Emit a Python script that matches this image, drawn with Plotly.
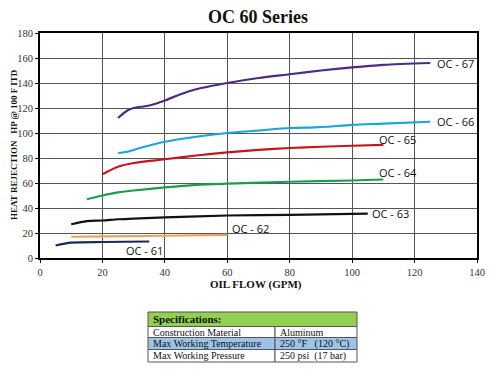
import plotly.graph_objects as go

# ---- data ----
oc61_x = [5, 10, 20, 35]
oc61_y = [10, 12.3, 12.8, 13.2]
oc62_x = [10, 20, 40, 60]
oc62_y = [17, 17.3, 17.8, 18.5]
oc63_x = [10, 15, 20, 25, 30, 40, 60, 80, 105]
oc63_y = [27, 29.5, 30, 31, 31.5, 32.5, 34, 34.5, 35.5]
oc64_x = [15, 20, 25, 30, 40, 50, 60, 80, 100, 110]
oc64_y = [47, 50, 52.5, 54, 56.5, 58.5, 59.5, 61, 62, 62.8]
oc65_x = [20, 25, 30, 40, 50, 60, 70, 80, 90, 100, 110]
oc65_y = [67, 73, 76, 79, 82, 84.5, 86.5, 88, 89, 89.8, 90.5]
oc66_x = [25, 28, 32, 40, 50, 60, 70, 80, 88, 92, 100, 110, 125]
oc66_y = [84, 85, 88, 93, 97, 100, 102, 104, 104.5, 105, 106.5, 107.5, 109]
oc67_x = [25, 28, 30, 35, 40, 45, 50, 60, 70, 80, 90, 100, 110, 125]
oc67_y = [112, 118, 120, 122, 126, 131, 135, 140, 144, 147, 150, 152.5, 154.5, 156]

series_names = ["OC - 61", "OC - 62", "OC - 63", "OC - 64", "OC - 65", "OC - 66", "OC - 67"]
series_x = [oc61_x, oc62_x, oc63_x, oc64_x, oc65_x, oc66_x, oc67_x]
series_y = [oc61_y, oc62_y, oc63_y, oc64_y, oc65_y, oc66_y, oc67_y]
colors = ["#1b2a5a", "#f0a05a", "#111111", "#1a9e4e", "#c4161c", "#1aa6d6", "#4e2a84"]

# label positions (data coords) and anchors
label_pos = [(33.5, 6.4, "center"), (67.5, 24, "center"), (105.8, 35.5, "left"),
             (114.7, 68.5, "center"), (114.5, 95, "center"), (126.5, 109, "left"),
             (126.5, 156, "left")]

x_ticks = [0, 20, 40, 60, 80, 100, 120, 140]
y_ticks = [0, 20, 40, 60, 80, 100, 120, 140, 160, 180]

spec_header = "Specifications:"
spec_labels = ["Construction Material", "Max Working Temperature", "Max Working Pressure"]
spec_values = ["Aluminum", "250 °F   (120 °C)", "250 psi  (17 bar)"]
row_fills = ["white", "#9dc3e6", "white"]

# page body has an 8px default margin; compensate
OFF = 8
FW, FH = 500 - OFF, 376 - OFF

fig = go.Figure()
for name, xs, ys, c in zip(series_names, series_x, series_y, colors):
    fig.add_trace(go.Scatter(x=xs, y=ys, mode="lines", name=name,
                             line=dict(color=c, width=2.2, shape="spline", smoothing=0.8),
                             showlegend=False, hoverinfo="skip"))

annotations = []
for name, (lx, ly, anc) in zip(series_names, label_pos):
    annotations.append(dict(x=lx, y=ly, xref="x", yref="y", text=name, showarrow=False,
                            xanchor=anc, yanchor="middle",
                            font=dict(family="Open Sans", size=11, color="#111")))

# plot area in reference pixels
L, R, T, B = 40, 477, 33, 258
W, H = R - L, B - T
def px(xp):
    return (xp - L) / W
def py(yp):
    return (B - yp) / H

tx0, tx1, tx2 = 148, 275, 357
row_edges = [312, 326.5, 337.5, 349.5, 362]
shapes = []
shapes.append(dict(type="rect", xref="paper", yref="paper", x0=px(tx0), x1=px(tx2),
                   y0=py(row_edges[1]), y1=py(row_edges[0]), fillcolor="#92d050",
                   line=dict(color="#555", width=1)))
annotations.append(dict(x=px(tx0 + 3), y=py((row_edges[0] + row_edges[1]) / 2), xref="paper", yref="paper",
                        text="<b>" + spec_header + "</b>", showarrow=False, xanchor="left", yanchor="middle",
                        font=dict(family="Liberation Serif", size=11, color="#111")))
for i in range(3):
    y0p, y1p = row_edges[i + 1], row_edges[i + 2]
    for a, b_ in [(tx0, tx1), (tx1, tx2)]:
        shapes.append(dict(type="rect", xref="paper", yref="paper", x0=px(a), x1=px(b_),
                           y0=py(y1p), y1=py(y0p), fillcolor=row_fills[i],
                           line=dict(color="#555", width=1)))
    ym = py((y0p + y1p) / 2)
    annotations.append(dict(x=px(tx0 + 3), y=ym, xref="paper", yref="paper", text=spec_labels[i],
                            showarrow=False, xanchor="left", yanchor="middle",
                            font=dict(family="Liberation Serif", size=10, color="#111")))
    annotations.append(dict(x=px(tx1 + 3), y=ym, xref="paper", yref="paper", text=spec_values[i],
                            showarrow=False, xanchor="left", yanchor="middle",
                            font=dict(family="Liberation Serif", size=10, color="#111")))

# axis titles as annotations for precise placement
annotations.append(dict(x=px(256), y=py(284), xref="paper", yref="paper", text="<b>OIL FLOW (GPM)</b>",
                        showarrow=False, xanchor="center", yanchor="middle",
                        font=dict(family="Liberation Serif", size=11, color="#111")))
annotations.append(dict(x=px(14), y=py(145), xref="paper", yref="paper",
                        text="<b>HEAT REJECTION   HP @ 100 F ITD</b>", textangle=-90,
                        showarrow=False, xanchor="center", yanchor="middle",
                        font=dict(family="Liberation Serif", size=9, color="#111")))
annotations.append(dict(x=px(258), y=py(17), xref="paper", yref="paper", text="<b>OC 60 Series</b>",
                        showarrow=False, xanchor="center", yanchor="middle",
                        font=dict(family="Liberation Serif", size=18, color="#111")))

fig.update_layout(
    width=FW, height=FH,
    margin=dict(l=L - OFF, r=500 - R, t=T - OFF, b=376 - B),
    paper_bgcolor="white", plot_bgcolor="white",
    xaxis=dict(range=[0, 140], tickvals=x_ticks, showgrid=True, gridcolor="#555", gridwidth=1,
               showline=True, linecolor="black", linewidth=2, mirror=True, automargin=False,
               ticks="outside", ticklen=3, tickcolor="black", zeroline=False,
               tickfont=dict(family="Liberation Serif", size=10.5, color="#333")),
    yaxis=dict(range=[0, 180], tickvals=y_ticks, showgrid=True, gridcolor="#555", gridwidth=1,
               showline=True, linecolor="black", linewidth=2, mirror=True, automargin=False,
               ticks="outside", ticklen=3, tickcolor="black", zeroline=False,
               tickfont=dict(family="Liberation Serif", size=10.5, color="#333")),
    annotations=annotations,
    shapes=shapes,
)

fig.write_html("out.html")
